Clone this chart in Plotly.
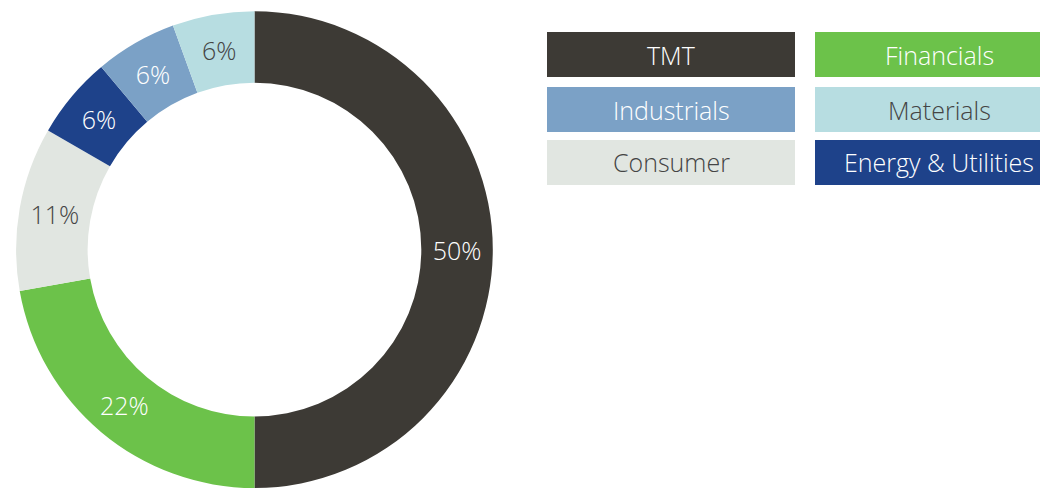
import plotly.graph_objects as go

W, H = 1040, 488

# Data (counts; shares shown as rounded percentages)
sectors = ["TMT", "Financials", "Consumer", "Energy & Utilities", "Industrials", "Materials"]
values = [9, 4, 2, 1, 1, 1]
colors = ["#3d3a35", "#6cc24a", "#e1e6e1", "#1e428a", "#7ba1c6", "#b7dde1"]
text_colors = ["#ffffff", "#ffffff", "#444444", "#ffffff", "#ffffff", "#444444"]

# Legend layout (order as shown in the custom legend grid)
legend_order = ["TMT", "Financials", "Industrials", "Materials", "Consumer", "Energy & Utilities"]

FONT = "Open Sans"

fig = go.Figure()
fig.add_trace(go.Pie(
    labels=sectors,
    values=values,
    sort=False,
    direction="clockwise",
    rotation=0,
    hole=0.70,
    marker=dict(colors=colors, line=dict(width=0)),
    texttemplate="%{percent:.0%}",
    textposition="inside",
    insidetextorientation="horizontal",
    textfont=dict(family=FONT, size=25, color=text_colors, weight=300),
    showlegend=False,
    hoverinfo="skip",
    domain=dict(x=[0.0149, 0.4745], y=[0.0, 0.977]),
))

# Custom box legend
col_x = [547, 815]
row_y = [(32, 77), (87, 132), (140, 185)]
box_w = 248
shapes = []
annotations = []
for i, name in enumerate(legend_order):
    r, c = divmod(i, 2)
    k = sectors.index(name)
    x0 = col_x[c]
    x1 = x0 + box_w
    y0, y1 = row_y[r]
    shapes.append(dict(
        type="rect", xref="paper", yref="paper",
        x0=x0 / W, x1=x1 / W, y0=1 - y1 / H, y1=1 - y0 / H,
        fillcolor=colors[k], line=dict(width=0), layer="below",
    ))
    annotations.append(dict(
        text=name, xref="paper", yref="paper",
        x=(x0 + x1) / 2 / W, y=1 - (y0 + y1) / 2 / H,
        xanchor="center", yanchor="middle", showarrow=False,
        font=dict(family=FONT, size=25, color=text_colors[k], weight=300),
    ))

fig.update_layout(
    width=W, height=H,
    margin=dict(l=0, r=0, t=0, b=0),
    paper_bgcolor="white", plot_bgcolor="white",
    shapes=shapes, annotations=annotations,
    font=dict(family=FONT),
)

fig.write_html("out.html", config={"displayModeBar": False},
               post_script="document.body.style.margin='0';")
